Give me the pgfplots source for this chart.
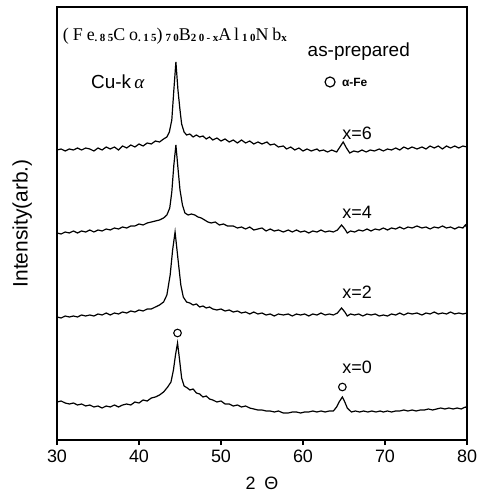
\documentclass[border=0pt]{standalone}
\usepackage{fontspec}
\setmainfont{Liberation Sans}
\newfontfamily\titlefont[LetterSpace=22]{Liberation Serif}
\newfontfamily\serifit{Liberation Serif}
\usepackage{pgfplots}
\pgfplotsset{compat=1.18}
\newcommand\sub[1]{\raisebox{-1.2bp}{\fontsize{11}{11}\selectfont\bfseries #1}}
\begin{document}
\begin{tikzpicture}
\begin{axis}[
  scale only axis, width=410bp, height=433bp,
  xmin=30, xmax=80, ymin=0, ymax=433,
  xtick={30,40,50,60,70,80}, ytick=\empty,
  xtick pos=bottom, tick align=outside, major tick length=5bp,
  axis line style={line width=1.5bp}, every tick/.style={black, line width=1.2bp},
  /pgf/number format/assume math mode=true,
  xticklabel style={font=\fontsize{18}{20}\selectfont, yshift=-1bp},
  xlabel={2\,\,\,Θ},
  xlabel style={font=\fontsize{18}{20}\selectfont, at={(axis description cs:0.5,-0.099)}, anchor=center},
  ylabel={Intensity(arb.)},
  ylabel style={font=\fontsize{21}{24}\selectfont, at={(axis description cs:-0.085,0.5)}, anchor=center, rotate=0},
  clip=false,
  cycle list={{black, line width=1.1bp, mark=none}},
]
\coordinate (SW) at (rel axis cs:0,0);
\coordinate (NE) at (rel axis cs:1,1);
% x=6
\addplot[black, line width=1.2bp, mark=none] coordinates {
(30.0,290)(30.5,291)(31.0,289)(31.5,291)(32.0,290)(32.5,292)(33.0,290)(33.5,292)(34.0,291)(34.5,289)
(35.0,292)(35.5,290)(36.0,293)(36.5,291)(37.0,293)(37.5,290)(38.0,294)(38.5,292)(39.0,295)(39.5,293)
(40.0,296)(40.5,294)(41.0,297)(41.5,296)(42.0,299)(42.5,298)(43.0,301)(43.4,303)(43.7,308)(44.0,320)
(44.25,350)(44.5,378)(44.75,350)(45.0,330)(45.2,316)(45.5,308)(45.8,305)(46.2,306)(46.6,303)(47.0,305)
(47.4,303)(47.8,304)(48.2,301)(48.6,303)(49.0,300)(49.5,302)(50.0,299)(50.5,301)(51.0,298)(51.5,300)
(52.0,297)(52.5,300)(53.0,297)(53.5,299)(54.0,296)(54.5,298)(55.0,296)(55.6,298)(56.0,295)(56.5,296)
(57.0,293)(57.6,294)(58.0,291)(58.5,293)(59.0,290)(59.5,292)(60.0,289)(60.5,291)(61.0,289)(61.7,291)
(62.0,289)(62.5,290)(63.0,288)(63.5,290)(64.1,288)(64.5,293)(64.9,298)(65.3,292)(65.7,287)(66.2,289)
(66.7,288)(67.2,290)(67.7,288)(68.2,290)(68.7,289)(69.3,291)(69.8,289)(70.3,291)(70.8,290)(71.3,292)
(71.8,290)(72.3,293)(72.8,291)(73.3,293)(73.9,291)(74.5,293)(75.0,291)(75.5,294)(76.0,292)(76.5,294)
(77.0,291)(77.5,294)(78.0,292)(78.5,294)(79.0,292)(79.5,294)(80.0,293)};
% x=4
\addplot[black, line width=1.2bp, mark=none] coordinates {
(30.0,207)(30.5,206)(31.0,208)(31.5,207)(32.0,209)(32.5,207)(33.0,209)(33.5,208)(34.0,210)(34.5,208)
(35.0,210)(35.5,209)(36.0,211)(36.5,210)(37.0,212)(37.5,211)(38.0,213)(38.5,212)(39.0,214)(39.5,214)
(40.0,216)(40.5,215)(41.0,217)(41.5,218)(42.0,219)(42.5,220)(43.0,222)(43.4,225)(43.75,232)(44.0,248)
(44.25,275)(44.5,295)(44.75,272)(45.0,250)(45.3,235)(45.6,227)(46.0,225)(46.4,226)(46.8,225)(47.2,223)
(47.6,222)(48.0,220)(48.4,218)(48.8,217)(49.3,218)(49.8,215)(50.3,216)(50.8,214)(51.5,214)(52.0,212)
(52.5,213)(53.0,211)(53.5,213)(54.0,210)(54.5,211)(55.0,212)(55.5,209)(56.0,211)(56.5,209)(57.0,210)
(57.6,208)(58.2,210)(58.7,208)(59.2,210)(59.7,208)(60.2,209)(60.7,207)(61.2,209)(61.7,208)(62.2,210)
(62.7,208)(63.2,209)(63.7,208)(64.2,210)(64.7,215)(65.1,211)(65.4,207)(65.8,209)(66.3,208)(66.8,210)
(67.3,209)(67.8,211)(68.3,209)(68.8,211)(69.3,210)(69.8,212)(70.3,210)(70.8,212)(71.3,211)(71.8,213)
(72.3,211)(72.8,213)(73.3,212)(73.9,214)(74.5,212)(75.0,213)(75.5,211)(76.0,213)(76.5,212)(77.0,214)
(77.5,212)(78.0,213)(78.5,211)(79.0,213)(79.5,212)(79.8,215)(80.0,212)};
% x=2
\addplot[black, line width=1.2bp, mark=none] coordinates {
(30.0,123)(30.5,122)(31.0,124)(31.5,123)(32.0,124)(32.5,123)(33.0,125)(33.5,124)(34.0,125)(34.5,124)
(35.0,126)(35.5,125)(36.0,127)(36.5,125)(37.0,127)(37.5,126)(38.0,128)(38.5,127)(39.0,129)(39.5,128)
(40.0,130)(40.5,129)(41.0,131)(41.5,131)(42.0,133)(42.5,135)(43.0,138)(43.4,145)(43.8,165)(44.1,190)
(44.4,208)(44.7,185)(45.1,155)(45.4,143)(45.8,138)(46.2,137)(46.6,135)(47.0,136)(47.4,133)(47.8,134)
(48.2,132)(48.6,133)(49.0,131)(49.5,130)(50.0,131)(50.5,129)(51.0,130)(51.5,128)(52.0,129)(52.5,127)
(53.0,128)(53.5,126)(54.0,128)(54.5,126)(55.0,127)(55.5,125)(56.0,126)(56.5,124)(57.0,126)(57.6,125)
(58.2,126)(58.7,124)(59.2,126)(59.7,125)(60.2,126)(60.7,124)(61.2,126)(61.7,125)(62.2,127)(62.7,125)
(63.2,126)(63.7,125)(64.2,127)(64.7,132)(65.1,128)(65.4,124)(65.8,126)(66.3,125)(66.8,126)(67.3,124)
(67.8,126)(68.3,125)(68.8,126)(69.3,124)(69.8,125)(70.3,124)(70.8,126)(71.3,125)(71.8,127)(72.3,125)
(72.8,127)(73.3,126)(73.9,127)(74.5,125)(75.0,127)(75.5,126)(76.0,128)(76.5,126)(77.0,127)(77.5,126)
(78.0,128)(78.5,126)(79.0,127)(79.5,126)(80.0,127)};
% x=0
\addplot[black, line width=1.2bp, mark=none] coordinates {
(30.0,38)(30.5,39)(31.0,37)(31.5,36)(32.0,37)(32.5,35)(33.0,36)(33.5,34)(34.0,35)(34.5,33)
(35.0,34)(35.5,32)(36.0,34)(36.5,33)(37.0,35)(37.5,33)(38.0,35)(38.5,36)(39.0,35)(39.5,38)
(40.0,37)(40.5,40)(41.0,39)(41.5,42)(42.0,43)(42.5,45)(43.0,48)(43.5,53)(43.9,58)(44.2,70)
(44.45,85)(44.7,97)(44.95,80)(45.2,62)(45.5,54)(45.9,52)(46.2,50)(46.6,51)(47.0,47)(47.4,46)
(47.8,43)(48.2,44)(48.6,41)(49.0,40)(49.5,38)(50.0,39)(50.5,36)(51.0,36)(51.5,34)(52.0,35)
(52.5,33)(53.0,34)(53.5,32)(54.0,31)(54.5,30)(55.0,30)(55.5,29)(56.0,29)(56.5,28)(57.0,29)
(57.6,27)(58.2,27)(58.7,28)(59.2,28)(59.7,27)(60.2,28)(60.7,28)(61.2,29)(61.7,28)(62.2,29)
(62.7,28)(63.2,29)(63.7,29)(64.1,33)(64.4,38)(64.8,43)(65.1,38)(65.4,32)(65.9,28)(66.4,29)
(66.9,28)(67.4,29)(67.9,28)(68.4,29)(68.9,28)(69.4,29)(69.8,28)(70.3,29)(70.8,28)(71.3,29)
(71.8,29)(72.3,30)(72.8,29)(73.3,30)(73.8,29)(74.3,30)(74.8,30)(75.3,31)(75.8,30)(76.3,31)
(76.8,32)(77.3,31)(77.8,32)(78.3,31)(78.8,32)(79.3,31)(79.8,33)(80.0,32)};
% alpha-Fe markers
\addplot[black, only marks, mark=o, mark size=3.8bp, line width=1.1bp] coordinates {(44.7,107)(64.8,53)};
\addplot[black, only marks, mark=o, mark size=5bp, line width=1.2bp] coordinates {(63.3,358)};
% texts
\node[anchor=west, inner sep=0] at (axis cs:30.7,404) {\titlefont\fontsize{18}{18}\selectfont (Fe\sub{.85}Co\sub{.15})\,\sub{70}B\sub{20-x}A\,l\,\sub{10}Nb\sub{x}};
\node[anchor=center, inner sep=0] at (axis cs:66.8,388) {\fontsize{19}{20}\selectfont as-prepared};
\node[anchor=center, inner sep=0] at (axis cs:66.3,358) {\fontsize{12}{12}\selectfont\bfseries α-Fe};
\node[anchor=center, inner sep=0] at (axis cs:37.4,358) {\fontsize{19}{20}\selectfont Cu-k\,{\serifit\itshape α}};
\node[anchor=center, inner sep=0] at (axis cs:66.6,307) {\fontsize{18}{20}\selectfont x=6};
\node[anchor=center, inner sep=0] at (axis cs:66.6,228) {\fontsize{18}{20}\selectfont x=4};
\node[anchor=center, inner sep=0] at (axis cs:66.6,148) {\fontsize{18}{20}\selectfont x=2};
\node[anchor=center, inner sep=0] at (axis cs:66.6,73) {\fontsize{18}{20}\selectfont x=0};
\end{axis}
\pgfresetboundingbox
\useasboundingbox ([shift={(-57bp,-54bp)}]SW) rectangle ([shift={(13bp,7bp)}]NE);
\end{tikzpicture}
\end{document}
